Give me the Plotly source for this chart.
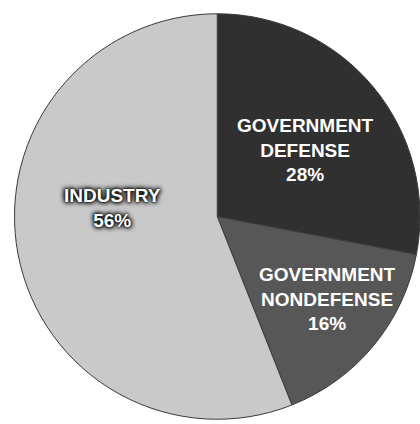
import plotly.graph_objects as go

categories = ["Government Defense", "Government Nondefense", "Industry"]
shares = [28, 16, 56]
colors = ["#303030", "#575757", "#c9c9c9"]

W, H = 420, 424
fig = go.Figure(go.Pie(
    labels=categories,
    values=shares,
    sort=False,
    direction="clockwise",
    rotation=0,
    textinfo="none",
    hoverinfo="label+percent",
    marker=dict(colors=colors, line=dict(color="#3a3a3a", width=1)),
    domain=dict(x=[14.5 / W, 1.0], y=[0.0, 1 - 9 / H]),
    showlegend=False,
))

# label block centres in pixels (style/layout)
label_pos = {
    "Government Defense": (305, 150, 19, None),
    "Government Nondefense": (327, 299, 19, None),
    "Industry": (112, 208, 19,
                 "0px 0px 2px #000, 0px 0px 4px #111, 1px 1px 5px #111, -1px -1px 5px #111"),
}
font_family = "Liberation Sans, Arial, sans-serif"
annotations = []
for cat, val in zip(categories, shares):
    cx, cy, fs, shadow = label_pos[cat]
    text = "<br>".join(cat.upper().split(" ") + [f"{val}%"])
    f = dict(family=font_family, size=fs, color="white", weight="bold")
    if shadow:
        f["shadow"] = shadow
    annotations.append(dict(
        x=cx / W, y=1 - cy / H, xref="paper", yref="paper",
        text=text, showarrow=False, xanchor="center", yanchor="middle",
        align="center", font=f,
    ))

fig.update_layout(
    width=W, height=H,
    margin=dict(l=0, r=0, t=0, b=0),
    paper_bgcolor="white",
    plot_bgcolor="white",
    annotations=annotations,
)
fig.write_html("out.html")
